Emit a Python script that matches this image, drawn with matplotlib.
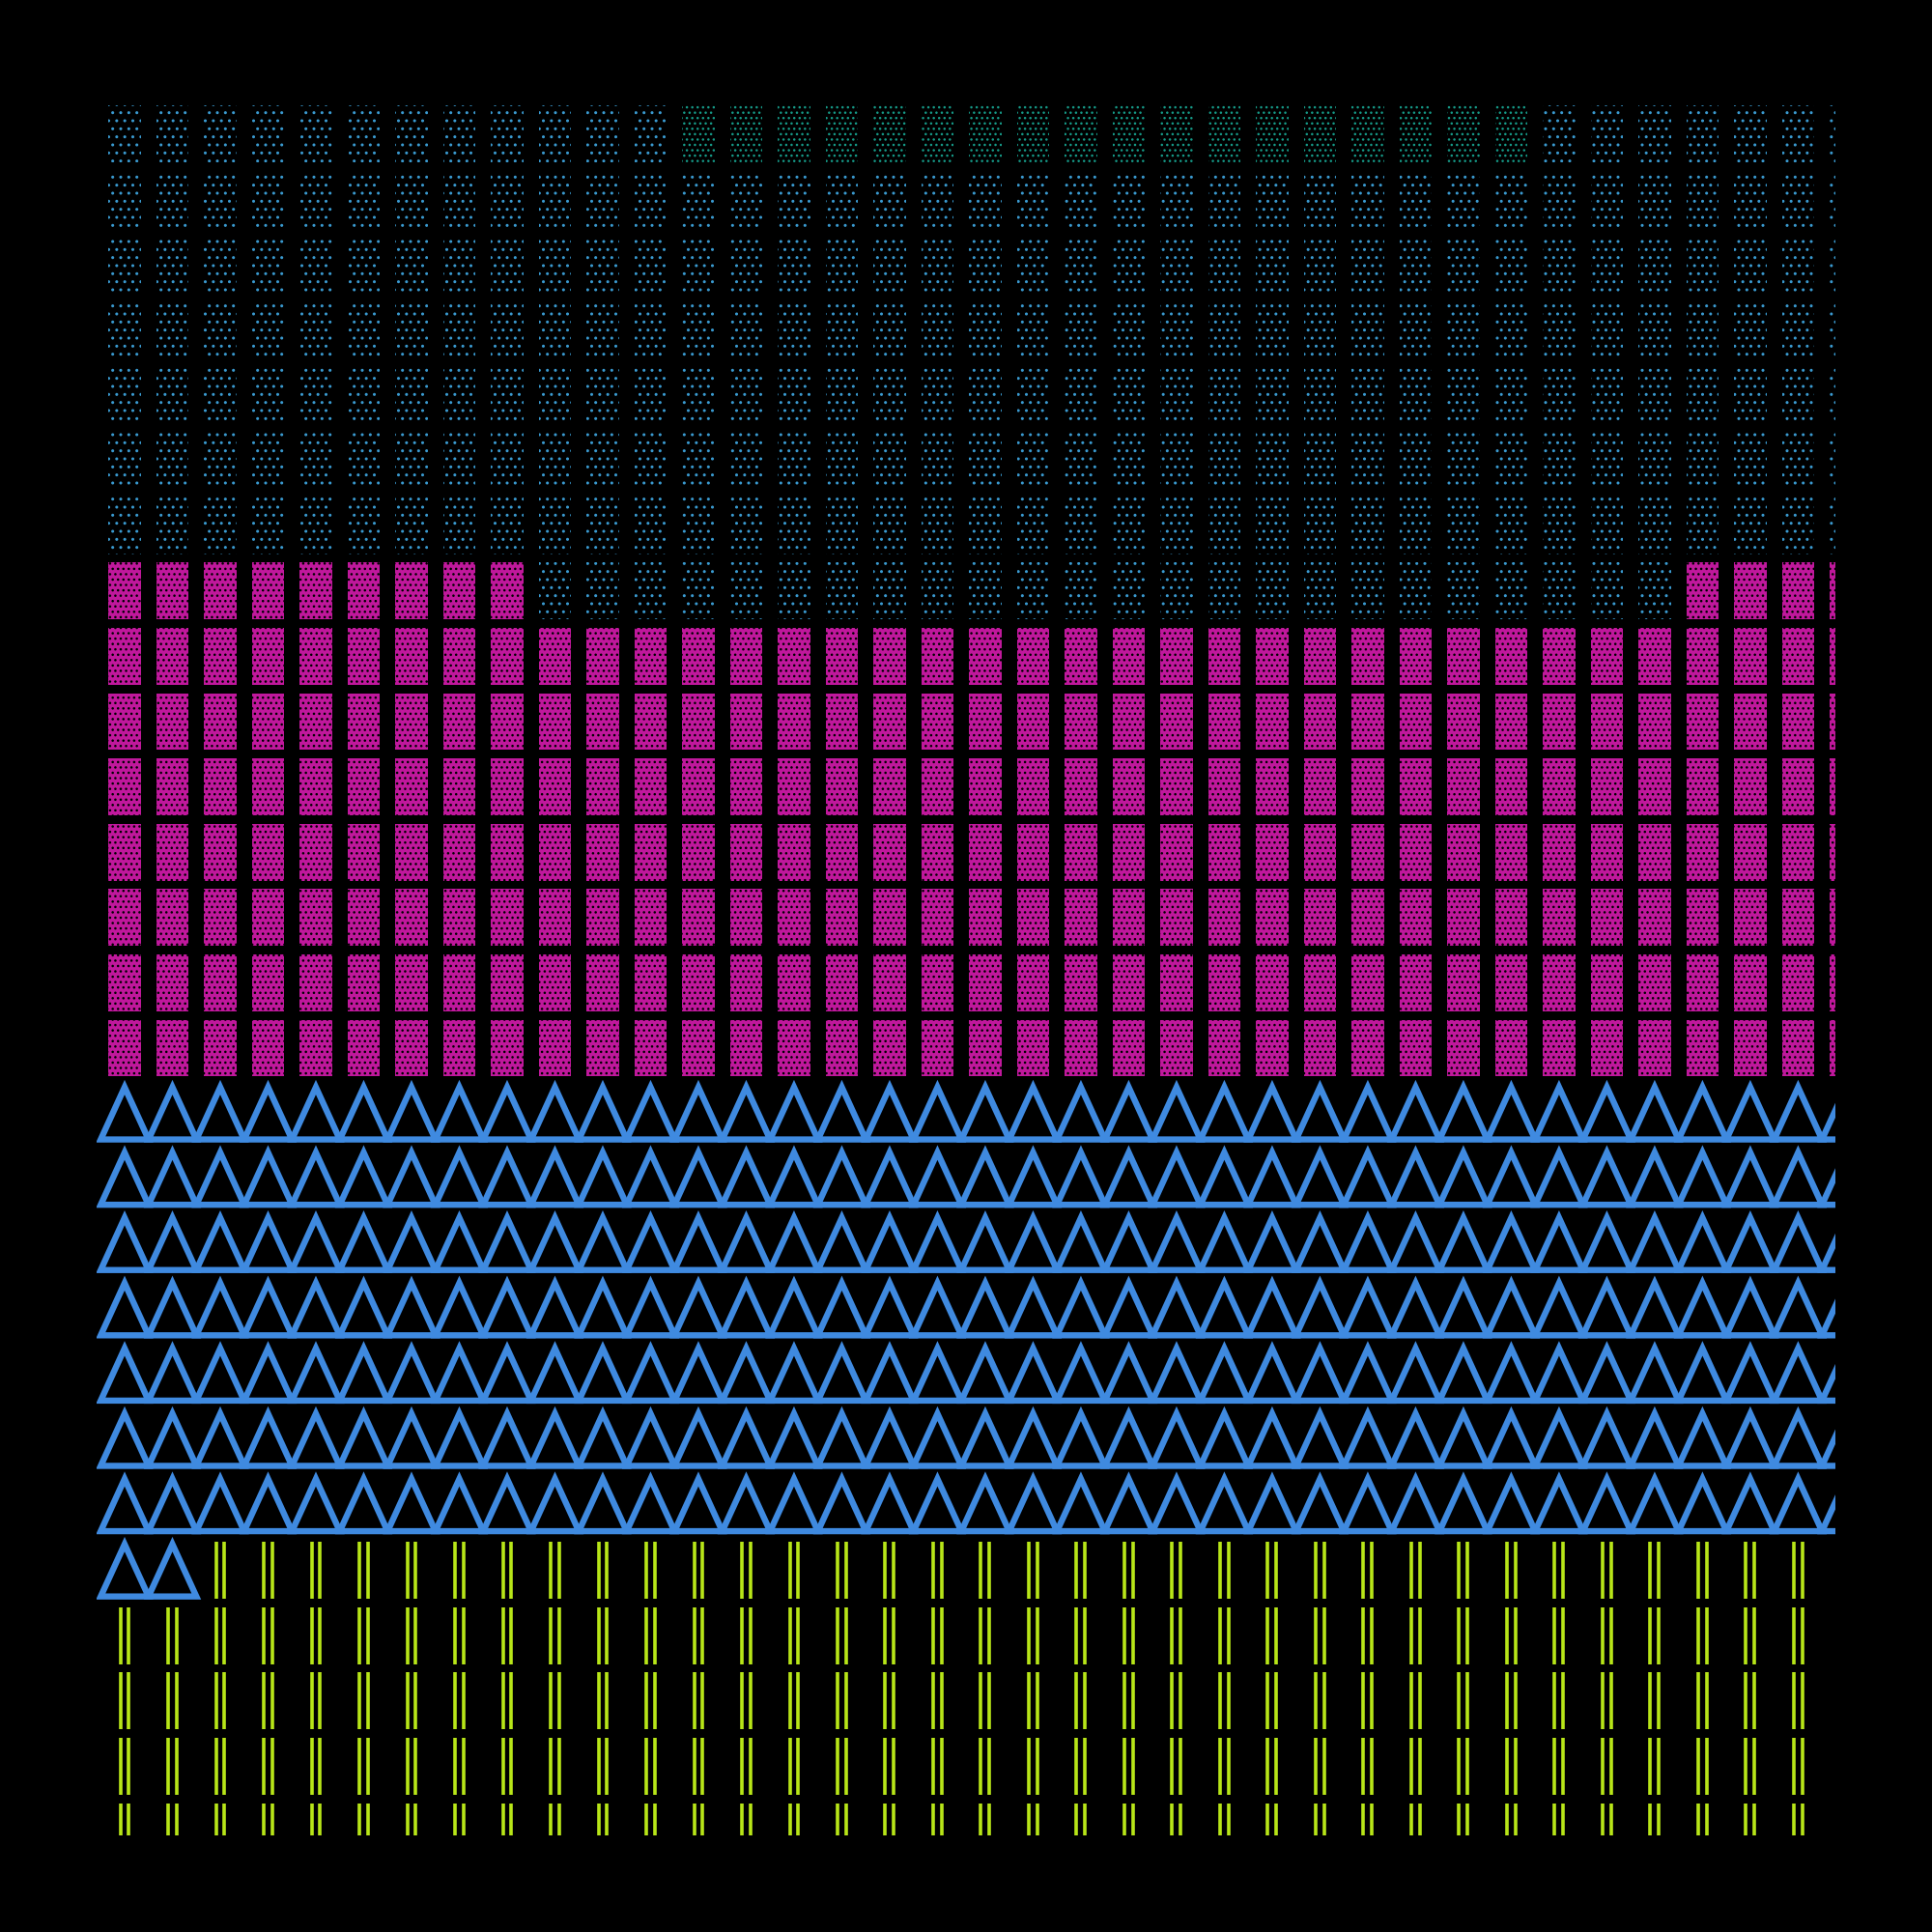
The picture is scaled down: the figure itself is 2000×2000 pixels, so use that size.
import numpy as np
import matplotlib

matplotlib.use("Agg")
import matplotlib.pyplot as plt
from matplotlib.patches import Rectangle, Polygon

# grid shape
N_ROWS = 27
N_COLS = 37

# runs of categories per row, top row first
row_runs = (
    [[("teal", 12), ("green", 18), ("teal", 7)]]
    + [[("teal", 37)]] * 6
    + [[("magenta", 9), ("teal", 24), ("magenta", 4)]]
    + [[("magenta", 37)]] * 7
    + [[("tri", 37)]] * 7
    + [[("tri", 2), ("yellow", 35)]]
    + [[("yellow", 37)]] * 4
)

colors = {
    "teal": "#3a9ad0",
    "green": "#169a88",
    "magenta": "#c0189c",
    "tri": "#3f8ae0",
    "yellow": "#b8e618",
}

plt.rcParams["hatch.linewidth"] = 1.0

fig = plt.figure(figsize=(20, 20), dpi=100, facecolor="black")
ax = fig.add_axes([0.05, 0.05, 0.9, 0.8975])
ax.set_facecolor("black")
ax.set_xlim(-0.586, 35.78)
ax.set_ylim(26.06, -0.5)
ax.axis("off")

cw, ch = 0.68, 0.87
for r, runs in enumerate(row_runs):
    c = 0
    for cat, n in runs:
        for _ in range(n):
            col = colors[cat]
            if cat in ("teal", "green"):
                ax.add_patch(Rectangle((c - cw / 2, r - ch / 2), cw, ch, facecolor="black",
                                       edgecolor=col, hatch=".." if cat == "teal" else "...",
                                       linewidth=0))
            elif cat == "magenta":
                ax.add_patch(Rectangle((c - cw / 2, r - ch / 2), cw, ch, facecolor=col,
                                       edgecolor="black", hatch="...", linewidth=0))
            elif cat == "tri":
                ax.add_patch(Polygon([(c - 0.5, r + 0.40), (c, r - 0.40), (c + 0.5, r + 0.40)],
                                     closed=True, fill=False, edgecolor=col, linewidth=4.6,
                                     joinstyle="miter"))
            else:
                for dx in (-0.09, 0.09):
                    ax.plot([c + dx, c + dx], [r - ch / 2, r + ch / 2], color=col,
                            linewidth=2.6, solid_capstyle="butt")
            c += 1

fig.savefig("out.png", dpi=100, facecolor="black")
